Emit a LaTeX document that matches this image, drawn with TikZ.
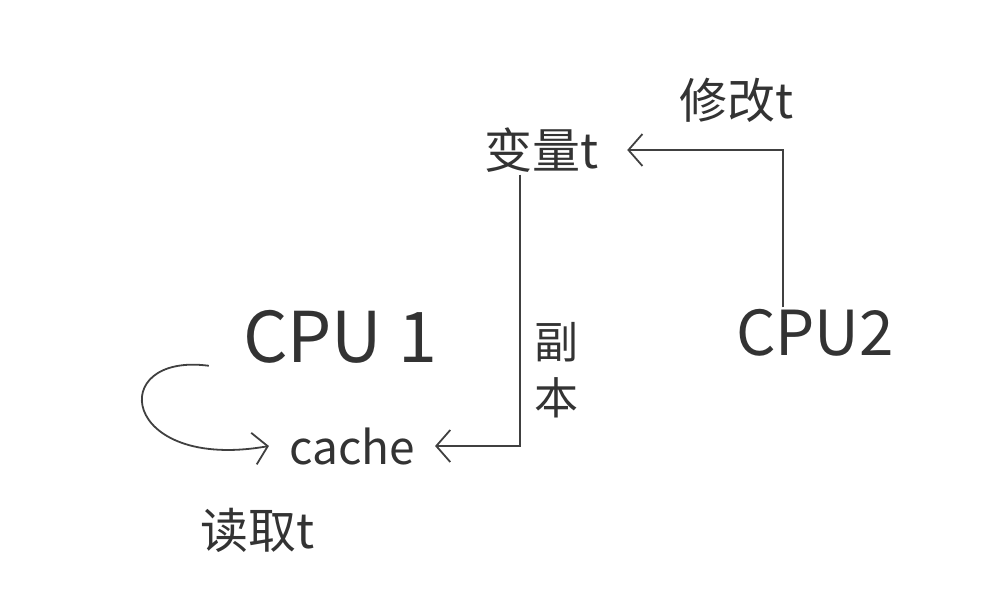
\documentclass[tikz,border=0pt]{standalone}
\usepackage{fontspec}
\setmainfont{Noto Sans CJK SC}
\usepackage{tikz}
\usetikzlibrary{arrows.meta,positioning}

\begin{document}
\begin{tikzpicture}[
    x=1pt,y=-1pt,
    lbl/.style={inner sep=2pt,text=black!80,font=\fontsize{48}{58}\selectfont},
    cpu/.style={inner sep=2pt,text=black!80,font=\fontsize{62}{70}\selectfont},
    arrow/.style={-{Straight Barb[length=14pt,width=32pt]},line width=1.8pt,draw=black!75}
]
\useasboundingbox (0,0) rectangle (990,602);
\node[lbl] (var) at (542,150) {变量t};
\node[lbl] (modify) at (737,100) {修改t};
\node[cpu,font=\fontsize{70}{78}\selectfont] (cpu1) at (340,337) {CPU 1};
\node[cpu] (cpu2) at (815,333) {CPU2};
\node[lbl,font=\fontsize{46}{54}\selectfont] (cache) at (352,446) {cache};
\node[lbl,align=center,font=\fontsize{44}{56}\selectfont] (copy) at (556,370) {副\\本};
\node[lbl] (read) at (258,530) {读取t};
\draw[arrow] ([xshift=-32]cpu2.north) |- ([xshift=26]var.east);
\draw[arrow] ([xshift=-22]var.south) |- ([xshift=18]cache.east);
\draw[arrow] ([xshift=-32]cpu1.south west) .. controls (105,352) and (120,472) .. ([xshift=-18]cache.west);
\end{tikzpicture}
\end{document}
